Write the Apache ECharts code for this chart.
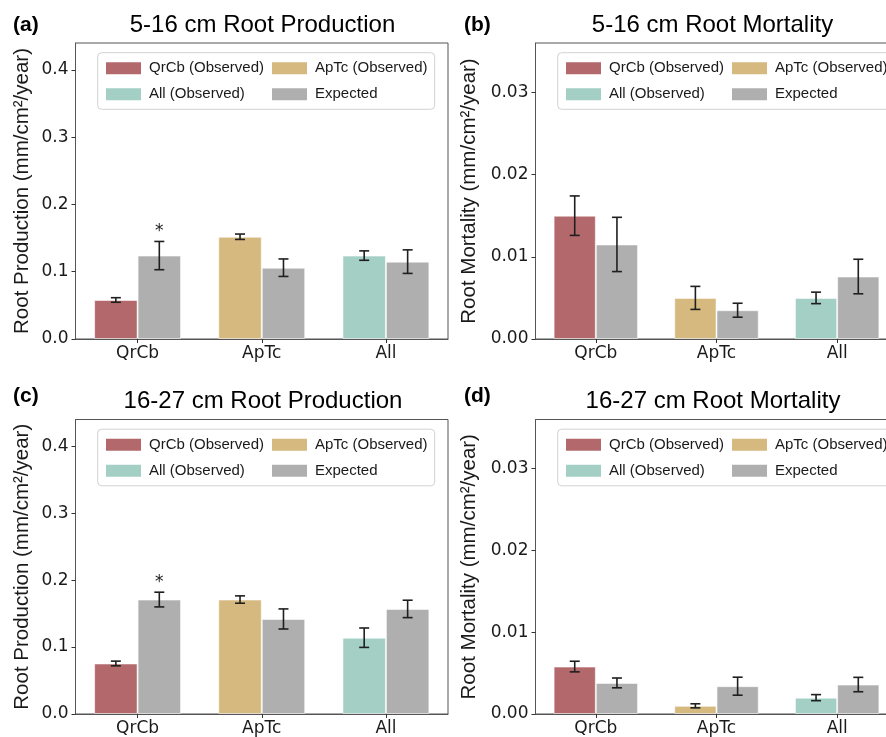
<!DOCTYPE html>
<html>
<head>
<meta charset="utf-8">
<script src="https://cdn.jsdelivr.net/npm/echarts@6/dist/echarts.min.js"></script>
<style>
  html, body { margin: 0; padding: 0; background: #ffffff; overflow: hidden; }
  /* the right-hand panels run past the 886px edge, so the canvas is wider */
  #chart { width: 920px; height: 737px; }
</style>
</head>
<body>
<div id="chart"></div>
<script>
// ---- data ----
const categories = ['QrCb', 'ApTc', 'All'];
const observedNames = ['QrCb (Observed)', 'ApTc (Observed)', 'All (Observed)'];
const expectedName = 'Expected';

// 5-16 cm root production (mm/cm²/year)
const prod516Obs    = [0.058, 0.152, 0.124];
const prod516ObsErr = [0.0034, 0.004, 0.007];
const prod516Exp    = [0.124, 0.106, 0.115];
const prod516ExpErr = [0.021, 0.013, 0.0175];
const prod516Sig    = [true, false, false];

// 5-16 cm root mortality
const mort516Obs    = [0.0150, 0.0050, 0.0050];
const mort516ObsErr = [0.0024, 0.0014, 0.0007];
const mort516Exp    = [0.0115, 0.0035, 0.0076];
const mort516ExpErr = [0.0033, 0.00085, 0.0021];
const mort516Sig    = [false, false, false];

// 16-27 cm root production
const prod1627Obs    = [0.0755, 0.171, 0.114];
const prod1627ObsErr = [0.0035, 0.0055, 0.0145];
const prod1627Exp    = [0.171, 0.142, 0.157];
const prod1627ExpErr = [0.011, 0.015, 0.013];
const prod1627Sig    = [true, false, false];

// 16-27 cm root mortality
const mort1627Obs    = [0.0058, 0.0010, 0.0020];
const mort1627ObsErr = [0.00065, 0.00025, 0.00037];
const mort1627Exp    = [0.0038, 0.0034, 0.0036];
const mort1627ExpErr = [0.0006, 0.0011, 0.00088];
const mort1627Sig    = [false, false, false];

// axis ticks
const prodTicks = [0, 0.1, 0.2, 0.3, 0.4];
const mortTicks = [0, 0.01, 0.02, 0.03];
const prodMax = 0.44;
const mortMax = 0.036;

// ---- panel definitions ----
const panels = [
  { tag: '(a)', title: '5-16 cm Root Production', yName: 'Root Production (mm/cm²/year)',
    obs: prod516Obs, obsErr: prod516ObsErr, exp: prod516Exp, expErr: prod516ExpErr, sig: prod516Sig,
    ticks: prodTicks, yMax: prodMax, digits: 1 },
  { tag: '(b)', title: '5-16 cm Root Mortality', yName: 'Root Mortality (mm/cm²/year)',
    obs: mort516Obs, obsErr: mort516ObsErr, exp: mort516Exp, expErr: mort516ExpErr, sig: mort516Sig,
    ticks: mortTicks, yMax: mortMax, digits: 2 },
  { tag: '(c)', title: '16-27 cm Root Production', yName: 'Root Production (mm/cm²/year)',
    obs: prod1627Obs, obsErr: prod1627ObsErr, exp: prod1627Exp, expErr: prod1627ExpErr, sig: prod1627Sig,
    ticks: prodTicks, yMax: prodMax, digits: 1 },
  { tag: '(d)', title: '16-27 cm Root Mortality', yName: 'Root Mortality (mm/cm²/year)',
    obs: mort1627Obs, obsErr: mort1627ObsErr, exp: mort1627Exp, expErr: mort1627ExpErr, sig: mort1627Sig,
    ticks: mortTicks, yMax: mortMax, digits: 2 }
];

// layout of the 2x2 grid (pixels)
const layout = [
  { left: 75.5,  top: 43,    width: 372.5, height: 296, titleX: 262.5, titleY: 25,  tagX: 13,  tagY: 25,  nameGap: 43 },
  { left: 535.5, top: 43,    width: 362,   height: 296, titleX: 712.5, titleY: 25,  tagX: 464, tagY: 25,  nameGap: 56 },
  { left: 75.5,  top: 419.5, width: 372.5, height: 295, titleX: 263,   titleY: 401, tagX: 13,  tagY: 396, nameGap: 43 },
  { left: 535.5, top: 419.5, width: 362,   height: 295, titleX: 713,   titleY: 401, tagX: 464, tagY: 396, nameGap: 56 }
];

const obsColors = ['#b3696c', '#d5b97f', '#a3cfc5'];
const expColor = '#afafaf';
const barEdge = 'rgba(255,255,255,0.55)';
const frameColor = '#555555';
const inkColor = '#1a1a1a';
const tickFont = 'DejaVu Sans';
const textFont = 'Liberation Sans';
const BAR_FRACTION = 0.35;

// error bars drawn as I-beams offset to the left (-1) or right (+1) bar slot
function errorRenderer(side) {
  return function (params, api) {
    const j = api.value(0), v = api.value(1), e = api.value(2);
    const band = api.size([1, 0])[0];
    const dx = side * band * BAR_FRACTION / 2;
    const hi = api.coord([j, v + e]);
    const lo = api.coord([j, v - e]);
    const x = hi[0] + dx;
    const cap = 5;
    const style = { stroke: '#1f1f1f', lineWidth: 1.6 };
    return {
      type: 'group',
      children: [
        { type: 'line', shape: { x1: x, y1: hi[1], x2: x, y2: lo[1] }, style },
        { type: 'line', shape: { x1: x - cap, y1: hi[1], x2: x + cap, y2: hi[1] }, style },
        { type: 'line', shape: { x1: x - cap, y1: lo[1], x2: x + cap, y2: lo[1] }, style }
      ]
    };
  };
}

// significance marker above the expected bar's error cap
function starRenderer(params, api) {
  const j = api.value(0), top = api.value(1);
  const band = api.size([1, 0])[0];
  const p = api.coord([j, top]);
  return {
    type: 'text',
    x: p[0] + band * BAR_FRACTION / 2,
    y: p[1] - 1,
    style: { text: '*', fontFamily: tickFont, fontSize: 17, fill: inkColor, align: 'center', verticalAlign: 'bottom' }
  };
}

const grid = [], xAxis = [], yAxis = [], series = [], legend = [], graphic = [];

panels.forEach((pn, i) => {
  const L = layout[i];
  grid.push({ left: L.left, top: L.top, width: L.width, height: L.height,
              show: true, borderColor: frameColor, borderWidth: 1, backgroundColor: 'transparent' });

  xAxis.push({
    type: 'category', gridIndex: i, data: categories,
    axisLine: { show: true, lineStyle: { color: frameColor, width: 1 } },
    axisTick: { show: true, alignWithLabel: true, length: 4, lineStyle: { color: '#333' } },
    axisLabel: { fontFamily: tickFont, fontSize: 17, color: inkColor, margin: 6 },
    splitLine: { show: false }
  });

  yAxis.push({
    type: 'value', gridIndex: i, min: 0, max: pn.yMax,
    axisLine: { show: true, lineStyle: { color: frameColor, width: 1 } },
    axisTick: { show: true, length: 4, lineStyle: { color: '#333' }, customValues: pn.ticks },
    axisLabel: { fontFamily: tickFont, fontSize: 17, color: inkColor, margin: 7,
                 customValues: pn.ticks, formatter: v => v.toFixed(pn.digits) },
    splitLine: { show: false },
    name: pn.yName, nameLocation: 'middle', nameGap: L.nameGap,
    nameTextStyle: { fontFamily: textFont, fontSize: 20.5, color: inkColor }
  });

  // observed bars: one stacked slot, a series per category so each gets its own colour
  observedNames.forEach((nm, k) => {
    series.push({
      type: 'bar', name: nm, xAxisIndex: i, yAxisIndex: i, stack: 'observed' + i,
      barWidth: (BAR_FRACTION * 100) + '%', barGap: '0%',
      itemStyle: { color: obsColors[k], borderColor: barEdge, borderWidth: 1 },
      emphasis: { disabled: true },
      data: categories.map((c, j) => (j === k ? pn.obs[j] : '-'))
    });
  });

  series.push({
    type: 'bar', name: expectedName, xAxisIndex: i, yAxisIndex: i,
    barWidth: (BAR_FRACTION * 100) + '%', barGap: '0%',
    itemStyle: { color: expColor, borderColor: barEdge, borderWidth: 1 },
    emphasis: { disabled: true },
    data: pn.exp
  });

  series.push({
    type: 'custom', name: 'obs-err-' + i, xAxisIndex: i, yAxisIndex: i, z: 5,
    renderItem: errorRenderer(-1), encode: { x: 0, y: 1 }, silent: true,
    data: categories.map((c, j) => [j, pn.obs[j], pn.obsErr[j]])
  });
  series.push({
    type: 'custom', name: 'exp-err-' + i, xAxisIndex: i, yAxisIndex: i, z: 5,
    renderItem: errorRenderer(1), encode: { x: 0, y: 1 }, silent: true,
    data: categories.map((c, j) => [j, pn.exp[j], pn.expErr[j]])
  });
  series.push({
    type: 'custom', name: 'sig-' + i, xAxisIndex: i, yAxisIndex: i, z: 5,
    renderItem: starRenderer, encode: { x: 0, y: 1 }, silent: true,
    data: categories.map((c, j) => [j, pn.exp[j] + pn.expErr[j]]).filter((d, j) => pn.sig[j])
  });

  // legend: two columns inside a rounded frame
  const legendBase = {
    orient: 'vertical', top: L.top + 17.3, padding: 0, itemGap: 10,
    itemWidth: 35, itemHeight: 12, icon: 'rect', selectedMode: false, z: 6,
    itemStyle: { borderWidth: 0 },
    textStyle: { fontFamily: textFont, fontSize: 15, color: inkColor, lineHeight: 16, padding: [0, 0, 0, 3] }
  };
  legend.push(Object.assign({}, legendBase, { left: L.left + 30.5, data: [observedNames[0], observedNames[2]] }));
  legend.push(Object.assign({}, legendBase, { left: L.left + 196.5, data: [observedNames[1], expectedName] }));

  graphic.push({
    type: 'rect', z: 3, silent: true,
    shape: { x: L.left + 22.2, y: L.top + 9.7, width: 337, height: 56.6, r: 4 },
    style: { fill: 'rgba(255,255,255,0.8)', stroke: '#d2d2d2', lineWidth: 1 }
  });
  graphic.push({
    type: 'text', z: 6, x: L.titleX, y: L.titleY,
    style: { text: pn.title, fontFamily: textFont, fontSize: 24, fill: '#000', align: 'center', verticalAlign: 'middle' }
  });
  graphic.push({
    type: 'text', z: 6, x: L.tagX, y: L.tagY,
    style: { text: pn.tag, fontFamily: textFont, fontWeight: 'bold', fontSize: 21, fill: '#000', align: 'left', verticalAlign: 'middle' }
  });
});

const chart = echarts.init(document.getElementById('chart'), null, { renderer: 'canvas' });
chart.setOption({
  animation: false,
  backgroundColor: '#ffffff',
  textStyle: { fontFamily: textFont },
  grid, xAxis, yAxis, series, legend, graphic
});
</script>
</body>
</html>
